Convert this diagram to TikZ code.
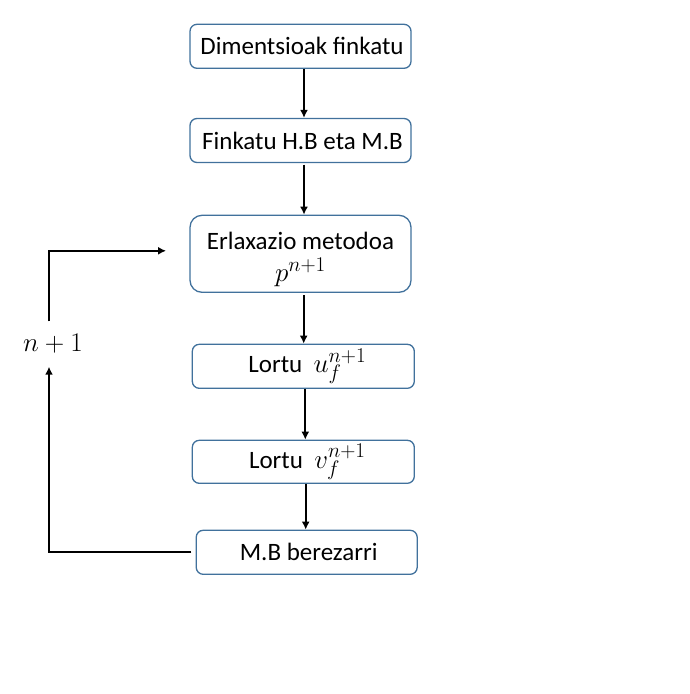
\documentclass[tikz,border=0pt]{standalone}
\usepackage{fix-cm}
\usepackage{fontspec}
\setmainfont{Carlito}
\usetikzlibrary{arrows.meta}
\definecolor{boxblue}{HTML}{41719C}
\DeclareMathSizes{27}{27}{21}{16}
\newcommand{\mymath}[1]{{\fontsize{27}{28}\selectfont$#1$}}
\tikzset{
  box/.style={draw=boxblue, line width=1.3pt, rounded corners=7pt, inner sep=0pt,
    minimum width=221pt, minimum height=44pt, font=\fontsize{25}{28}\selectfont, align=center},
  conn/.style={line width=2pt, -{Latex[length=8pt,width=8pt]}},
}
\begin{document}
\begin{tikzpicture}[x=1pt,y=-1pt]
\useasboundingbox (0,0) rectangle (690,694);
\node[box] (b1) at (300.5,46.3) {\hspace*{3pt}Dimentsioak finkatu};
\node[box] (b2) at (300.5,140.5) {\hspace*{4pt}Finkatu H.B eta M.B};
\node[box, minimum height=77pt, rounded corners=12pt] (b3) at (300.5,253.8) {\rule{0pt}{28pt}Erlaxazio metodoa\\[4pt]\mymath{p^{n+1}}};
\node[box, minimum width=222pt] (b4) at (303.3,366.3) {\hspace*{8pt}Lortu\ \ \mymath{u_f^{n+1}}};
\node[box, minimum width=222pt, minimum height=43pt] (b5) at (303.3,461.8) {\hspace*{8pt}Lortu\ \ \mymath{v_f^{n+1}}};
\node[box] (b6) at (306.7,552.3) {\hspace*{4pt}M.B berezarri};
\node[inner sep=0pt, minimum height=45pt, font=\fontsize{25}{28}\selectfont] (lbl) at (53,344) {\mymath{n+1}};
\draw[conn] ([xshift=3.5pt]b1.south) -- ([xshift=3.5pt]b2.north);
\draw[conn] ([xshift=3.5pt,yshift=-1.5pt]b2.south) -- ([xshift=3.5pt]b3.north);
\draw[conn] ([xshift=3.2pt,yshift=-2.5pt]b3.south) -- ([xshift=0.4pt]b4.north);
\draw[conn] ([xshift=2pt]b4.south) -- ([xshift=2pt]b5.north);
\draw[conn] ([xshift=2.4pt]b5.south) -- ([xshift=-1pt]b6.north);
\draw[conn] ([xshift=-4.3pt]b6.west) -| ([xshift=-4pt]lbl.south);
\draw[conn] ([xshift=-4pt]lbl.north) |- ([xshift=-23.3pt,yshift=3pt]b3.west);
\end{tikzpicture}
\end{document}
